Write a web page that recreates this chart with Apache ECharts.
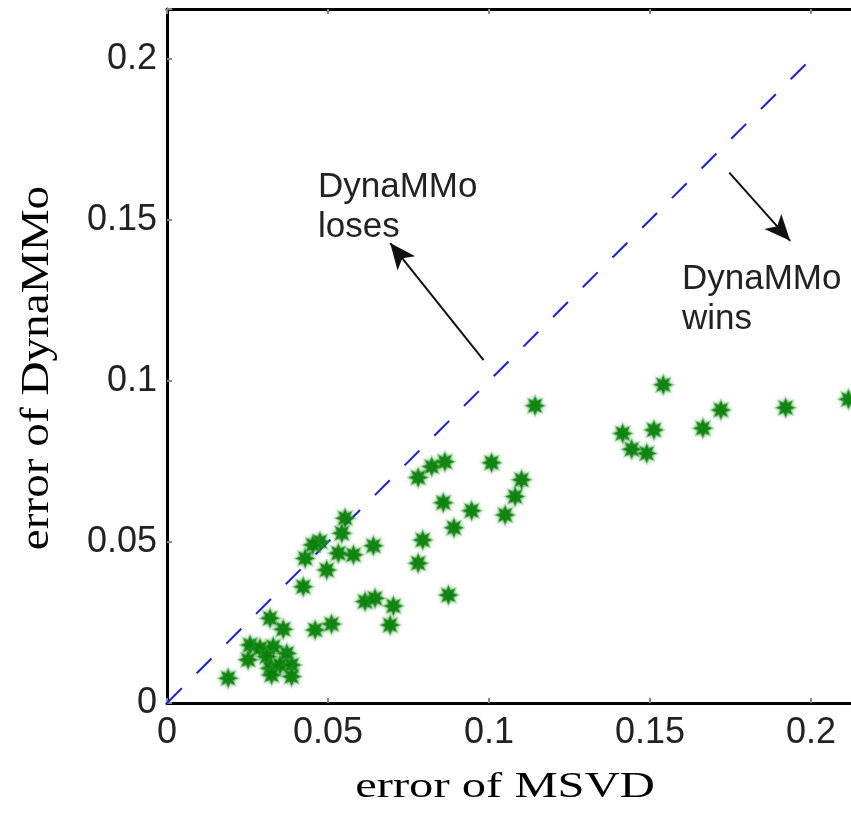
<!DOCTYPE html>
<html>
<head>
<meta charset="utf-8">
<script src="https://cdn.jsdelivr.net/npm/echarts@6/dist/echarts.min.js"></script>
<style>
  html, body { margin: 0; padding: 0; background: #fff; }
  #chart { width: 851px; height: 819px; }
</style>
</head>
<body>
<div id="chart"></div>
<script>
  // error of MSVD (x) vs error of DynaMMo (y)
  const msvdError = [
    0.1541, 0.1143, 0.1720, 0.1921, 0.2116, 0.1415, 0.1512, 0.1664, 0.1443, 0.1490,
    0.0780, 0.0822, 0.0863, 0.1008, 0.1101, 0.1081, 0.1050, 0.0858, 0.0946, 0.0891,
    0.0794, 0.0780, 0.0874, 0.0553, 0.0543, 0.0475, 0.0453, 0.0641, 0.0532, 0.0579,
    0.0429, 0.0496, 0.0423, 0.0615, 0.0646, 0.0703, 0.0693, 0.0320, 0.0361, 0.0460,
    0.0511, 0.0258, 0.0289, 0.0330, 0.0372, 0.0252, 0.0310, 0.0320, 0.0351, 0.0387,
    0.0387, 0.0325, 0.0190
  ]
  const dynammoError = [
    0.0988, 0.0923, 0.0910, 0.0917, 0.0943, 0.0837, 0.0848, 0.0853, 0.0788, 0.0775,
    0.0700, 0.0734, 0.0749, 0.0746, 0.0693, 0.0641, 0.0584, 0.0622, 0.0597, 0.0544,
    0.0506, 0.0434, 0.0335, 0.0574, 0.0527, 0.0501, 0.0491, 0.0488, 0.0465, 0.0460,
    0.0449, 0.0413, 0.0361, 0.0315, 0.0325, 0.0301, 0.0242, 0.0263, 0.0229, 0.0227,
    0.0245, 0.0180, 0.0170, 0.0175, 0.0154, 0.0134, 0.0144, 0.0108, 0.0118, 0.0118,
    0.0082, 0.0087, 0.0077
  ]
  const tickValues = [0, 0.05, 0.1, 0.15, 0.2]
  const axisMax = 0.2155
  const diagonal = [[0, 0], [0.2, 0.2]]
  const losesArrow = [[0.0983, 0.1065], [0.0693, 0.1428]]
  const winsArrow = [[0.1746, 0.1647], [0.1935, 0.1435]]

  // 8 armed asterisk-like star
  function starPath () {
    let pts = []
    for (let i = 0; i < 16; i++) {
      let r = (i % 2 === 0) ? 10 : 5.6
      let a = Math.PI / 2 + i * Math.PI / 8
      pts.push((10 + r * Math.cos(a)).toFixed(2) + ',' + (10 - r * Math.sin(a)).toFixed(2))
    }
    return 'path://M' + pts.join('L') + 'Z'
  }

  function tickLabel (val) {
    let hit = tickValues.some(t => Math.abs(t - val) < 1e-9)
    return hit ? String(+val.toFixed(2)) : ''
  }

  let points = msvdError.map((x, i) => [x, dynammoError[i]])
  let labelFont = '"Liberation Sans", Arial, sans-serif'

  let chart = echarts.init(document.getElementById('chart'))
  let option = {
    animation: false,
    backgroundColor: '#fff',
    grid: {
      left: 167,
      top: 9,
      width: 694,
      height: 694,
      containLabel: false,
      outerBoundsMode: 'none'
    },
    xAxis: [{
      type: 'value',
      min: 0,
      max: axisMax,
      interval: 0.05,
      position: 'bottom',
      axisLine: { lineStyle: { color: '#000', width: 3 } },
      axisTick: { inside: true, length: 5, lineStyle: { color: '#888', width: 2 } },
      axisLabel: {
        margin: 12,
        fontSize: 36,
        fontFamily: labelFont,
        color: '#222',
        formatter: tickLabel
      },
      splitLine: { show: false }
    }, {
      type: 'value',
      min: 0,
      max: axisMax,
      interval: 0.05,
      position: 'top',
      axisLine: { lineStyle: { color: '#000', width: 3 } },
      axisTick: { inside: true, length: 5, lineStyle: { color: '#888', width: 2 } },
      axisLabel: { show: false },
      splitLine: { show: false }
    }],
    yAxis: {
      type: 'value',
      min: 0,
      max: axisMax,
      interval: 0.05,
      axisLine: { show: true, lineStyle: { color: '#000', width: 3 } },
      axisTick: { show: true, inside: true, length: 5, lineStyle: { color: '#888', width: 2 } },
      axisLabel: {
        margin: 10,
        fontSize: 36,
        fontFamily: labelFont,
        color: '#222',
        formatter: tickLabel
      },
      splitLine: { show: false }
    },
    series: [{
      type: 'line',
      data: diagonal,
      symbol: 'none',
      silent: true,
      z: 1,
      lineStyle: { color: '#1a1aff', width: 2, type: [21, 21] },
      markLine: {
        silent: true,
        symbol: ['none', 'arrow'],
        symbolSize: [17, 26],
        label: { show: false },
        lineStyle: { color: '#111', width: 2, type: 'solid' },
        data: [
          [{ coord: losesArrow[0] }, { coord: losesArrow[1] }],
          [{ coord: winsArrow[0] }, { coord: winsArrow[1] }]
        ]
      }
    }, {
      type: 'scatter',
      data: points,
      symbol: starPath(),
      symbolSize: 19,
      z: 2,
      itemStyle: {
        color: '#077f07',
        opacity: 0.92,
        borderColor: 'rgba(60,160,60,0.4)',
        borderWidth: 2,
        shadowBlur: 4,
        shadowColor: 'rgba(0,128,0,0.45)'
      }
    }],
    graphic: [{
      type: 'text',
      left: 318,
      top: 167,
      style: {
        text: 'DynaMMo\nloses',
        fontSize: 35,
        lineHeight: 40,
        fontFamily: labelFont,
        fill: '#222'
      }
    }, {
      type: 'text',
      left: 682,
      top: 259,
      style: {
        text: 'DynaMMo\nwins',
        fontSize: 35,
        lineHeight: 40,
        fontFamily: labelFont,
        fill: '#222'
      }
    }, {
      type: 'text',
      x: 505,
      y: 788,
      scaleX: 1.35,
      style: {
        text: 'error of MSVD',
        fontSize: 36,
        fontFamily: '"Liberation Serif", serif',
        fill: '#000',
        align: 'center',
        verticalAlign: 'middle'
      }
    }, {
      type: 'text',
      x: 37,
      y: 368,
      rotation: Math.PI / 2,
      scaleX: 1.18,
      style: {
        text: 'error of DynaMMo',
        fontSize: 40,
        fontFamily: '"Liberation Serif", serif',
        fill: '#000',
        align: 'center',
        verticalAlign: 'middle'
      }
    }]
  }
  chart.setOption(option)
</script>
</body>
</html>
